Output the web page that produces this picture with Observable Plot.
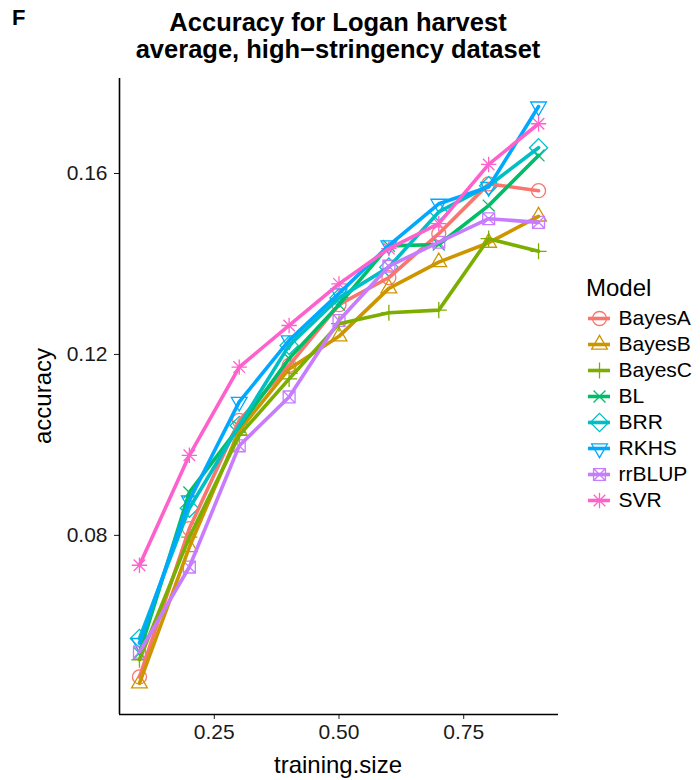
<!DOCTYPE html>
<html><head><meta charset="utf-8">
<script src="https://cdn.jsdelivr.net/npm/d3@7"></script>
<script src="https://cdn.jsdelivr.net/npm/@observablehq/plot@0.6"></script>
<style>
body{margin:0;background:#fff;font-family:"Liberation Sans",Arial,Helvetica,sans-serif;}
#wrap{position:relative;width:700px;height:780px;overflow:hidden;background:#fff;}
#chart{position:absolute;left:0;top:0;}
#legend{position:absolute;left:579px;top:305px;}
#tag{position:absolute;left:12px;top:5px;font-weight:bold;font-size:22px;}
#title{position:absolute;left:88px;width:500px;top:9px;text-align:center;font-weight:bold;font-size:25.5px;line-height:27px;white-space:nowrap;}
#ylab{position:absolute;left:43px;top:396px;transform:translate(-50%,-50%) rotate(-90deg);font-size:24px;white-space:nowrap;}
#xlab{position:absolute;left:338px;top:751px;transform:translateX(-50%);font-size:24px;white-space:nowrap;}
#legtitle{position:absolute;left:586px;top:274px;font-size:24px;}
</style></head><body>
<div id="wrap">
<div id="chart"></div>
<div id="legend"></div>
<div id="tag">F</div>
<div id="title">Accuracy for Logan harvest<br>average, high−stringency dataset</div>
<div id="ylab">accuracy</div>
<div id="xlab">training.size</div>
<div id="legtitle">Model</div>
</div>
<script>
const trainingSize = [0.1, 0.2, 0.3, 0.4, 0.5, 0.6, 0.7, 0.8, 0.9];
const models = ["BayesA", "BayesB", "BayesC", "BL", "BRR", "RKHS", "rrBLUP", "SVR"];
const bayesA = [0.0487, 0.0815, 0.1054, 0.1176, 0.1310, 0.1370, 0.1467, 0.1577, 0.1562];
const bayesB = [0.0473, 0.0774, 0.1032, 0.1168, 0.1240, 0.1346, 0.1404, 0.1447, 0.1505];
const bayesC = [0.0525, 0.0796, 0.1021, 0.1146, 0.1268, 0.1292, 0.1298, 0.1456, 0.1428];
const bl     = [0.0540, 0.0895, 0.1040, 0.1191, 0.1310, 0.1440, 0.1443, 0.1529, 0.1640];
const brr    = [0.0572, 0.0860, 0.1043, 0.1220, 0.1325, 0.1393, 0.1515, 0.1573, 0.1657];
const rkhs   = [0.0562, 0.0877, 0.1095, 0.1231, 0.1335, 0.1441, 0.1533, 0.1570, 0.1748];
const rrblup = [0.0542, 0.0730, 0.0998, 0.1106, 0.1275, 0.1395, 0.1448, 0.1500, 0.1492];
const svr    = [0.0734, 0.0977, 0.1172, 0.1264, 0.1356, 0.1434, 0.1489, 0.1620, 0.1710];
const colors = ["#F8766D", "#CD9600", "#7CAE00", "#00BE67", "#00BFC4", "#00A9FF", "#C77CFF", "#FF61CC"];
const yTicks = [0.08, 0.12, 0.16];
const xTicks = [0.25, 0.50, 0.75];

const series = [bayesA, bayesB, bayesC, bl, brr, rkhs, rrblup, svr];
const rows = models.flatMap((m, i) => trainingSize.map((t, j) => ({model: m, size: t, accuracy: series[i][j]})));

function sym(fn) { return {draw(c, size) { const r = Math.sqrt(size / Math.PI); fn(c, r); }}; }
const shapes = [
  sym((c, r) => { c.moveTo(r, 0); c.arc(0, 0, r, 0, 2 * Math.PI); }),
  sym((c, r) => { const R = r * 1.3; c.moveTo(0, -R); c.lineTo(R * 0.866, R * 0.5); c.lineTo(-R * 0.866, R * 0.5); c.closePath(); }),
  sym((c, r) => { const R = r * 1.15; c.moveTo(-R, 0); c.lineTo(R, 0); c.moveTo(0, -R); c.lineTo(0, R); }),
  sym((c, r) => { const R = r * 0.85; c.moveTo(-R, -R); c.lineTo(R, R); c.moveTo(-R, R); c.lineTo(R, -R); }),
  sym((c, r) => { const R = r * 1.3; c.moveTo(0, -R); c.lineTo(R, 0); c.lineTo(0, R); c.lineTo(-R, 0); c.closePath(); }),
  sym((c, r) => { const R = r * 1.3; c.moveTo(0, R); c.lineTo(R * 0.866, -R * 0.5); c.lineTo(-R * 0.866, -R * 0.5); c.closePath(); }),
  sym((c, r) => { const s = r * 0.85; c.rect(-s, -s, 2 * s, 2 * s); c.moveTo(-s, -s); c.lineTo(s, s); c.moveTo(-s, s); c.lineTo(s, -s); }),
  sym((c, r) => { const R = r * 1.1, d = R * 0.75; c.moveTo(-R, 0); c.lineTo(R, 0); c.moveTo(0, -R); c.lineTo(0, R); c.moveTo(-d, -d); c.lineTo(d, d); c.moveTo(-d, d); c.lineTo(d, -d); })
];

const colorScale = {domain: models, range: colors};

const chart = Plot.plot({
  width: 560, height: 780,
  marginLeft: 119, marginRight: 2, marginTop: 78, marginBottom: 66,
  style: {fontSize: "21px", fontFamily: "'Liberation Sans', Arial, Helvetica, sans-serif", color: "#1a1a1a", background: "transparent"},
  x: {domain: [0.06, 0.94], ticks: xTicks, tickFormat: d3.format(".2f"), tickSize: 5, tickPadding: 5, label: null},
  y: {domain: [0.0404, 0.181], ticks: yTicks, tickFormat: d3.format(".2f"), tickSize: 5, tickPadding: 7, label: null},
  color: colorScale,
  marks: [
    ...models.map((m, i) => Plot.dot(rows.filter(d => d.model === m), {x: "size", y: "accuracy", stroke: "model", symbol: shapes[i], r: 7, strokeWidth: 1.3, fill: "none"})),
    Plot.line(rows, {x: "size", y: "accuracy", stroke: "model", z: "model", strokeWidth: 3.6}),
    Plot.ruleX([0.06], {stroke: "black", strokeWidth: 1.6}),
    Plot.ruleY([0.0404], {stroke: "black", strokeWidth: 1.6})
  ]
});
document.getElementById("chart").appendChild(chart);

const legend = Plot.plot({
  width: 120, height: 208,
  marginLeft: 9, marginRight: 89, marginTop: 0, marginBottom: 0,
  style: {fontSize: "21px", fontFamily: "'Liberation Sans', Arial, Helvetica, sans-serif", color: "#000", background: "transparent"},
  x: {axis: null, domain: [0, 1]},
  y: {type: "point", domain: models, padding: 0.5, axis: null},
  color: colorScale,
  marks: [
    ...models.map((m, i) => Plot.dot([m], {y: d => d, frameAnchor: "middle", stroke: d => d, symbol: shapes[i], r: 7, strokeWidth: 1.3, fill: "none"})),
    Plot.tickY(models, {y: d => d, stroke: d => d, strokeWidth: 3.6}),
    Plot.text(models, {y: d => d, text: d => d, frameAnchor: "right", dx: 8, textAnchor: "start", fill: "#000"})
  ]
});
document.getElementById("legend").appendChild(legend);
</script>
</body></html>
